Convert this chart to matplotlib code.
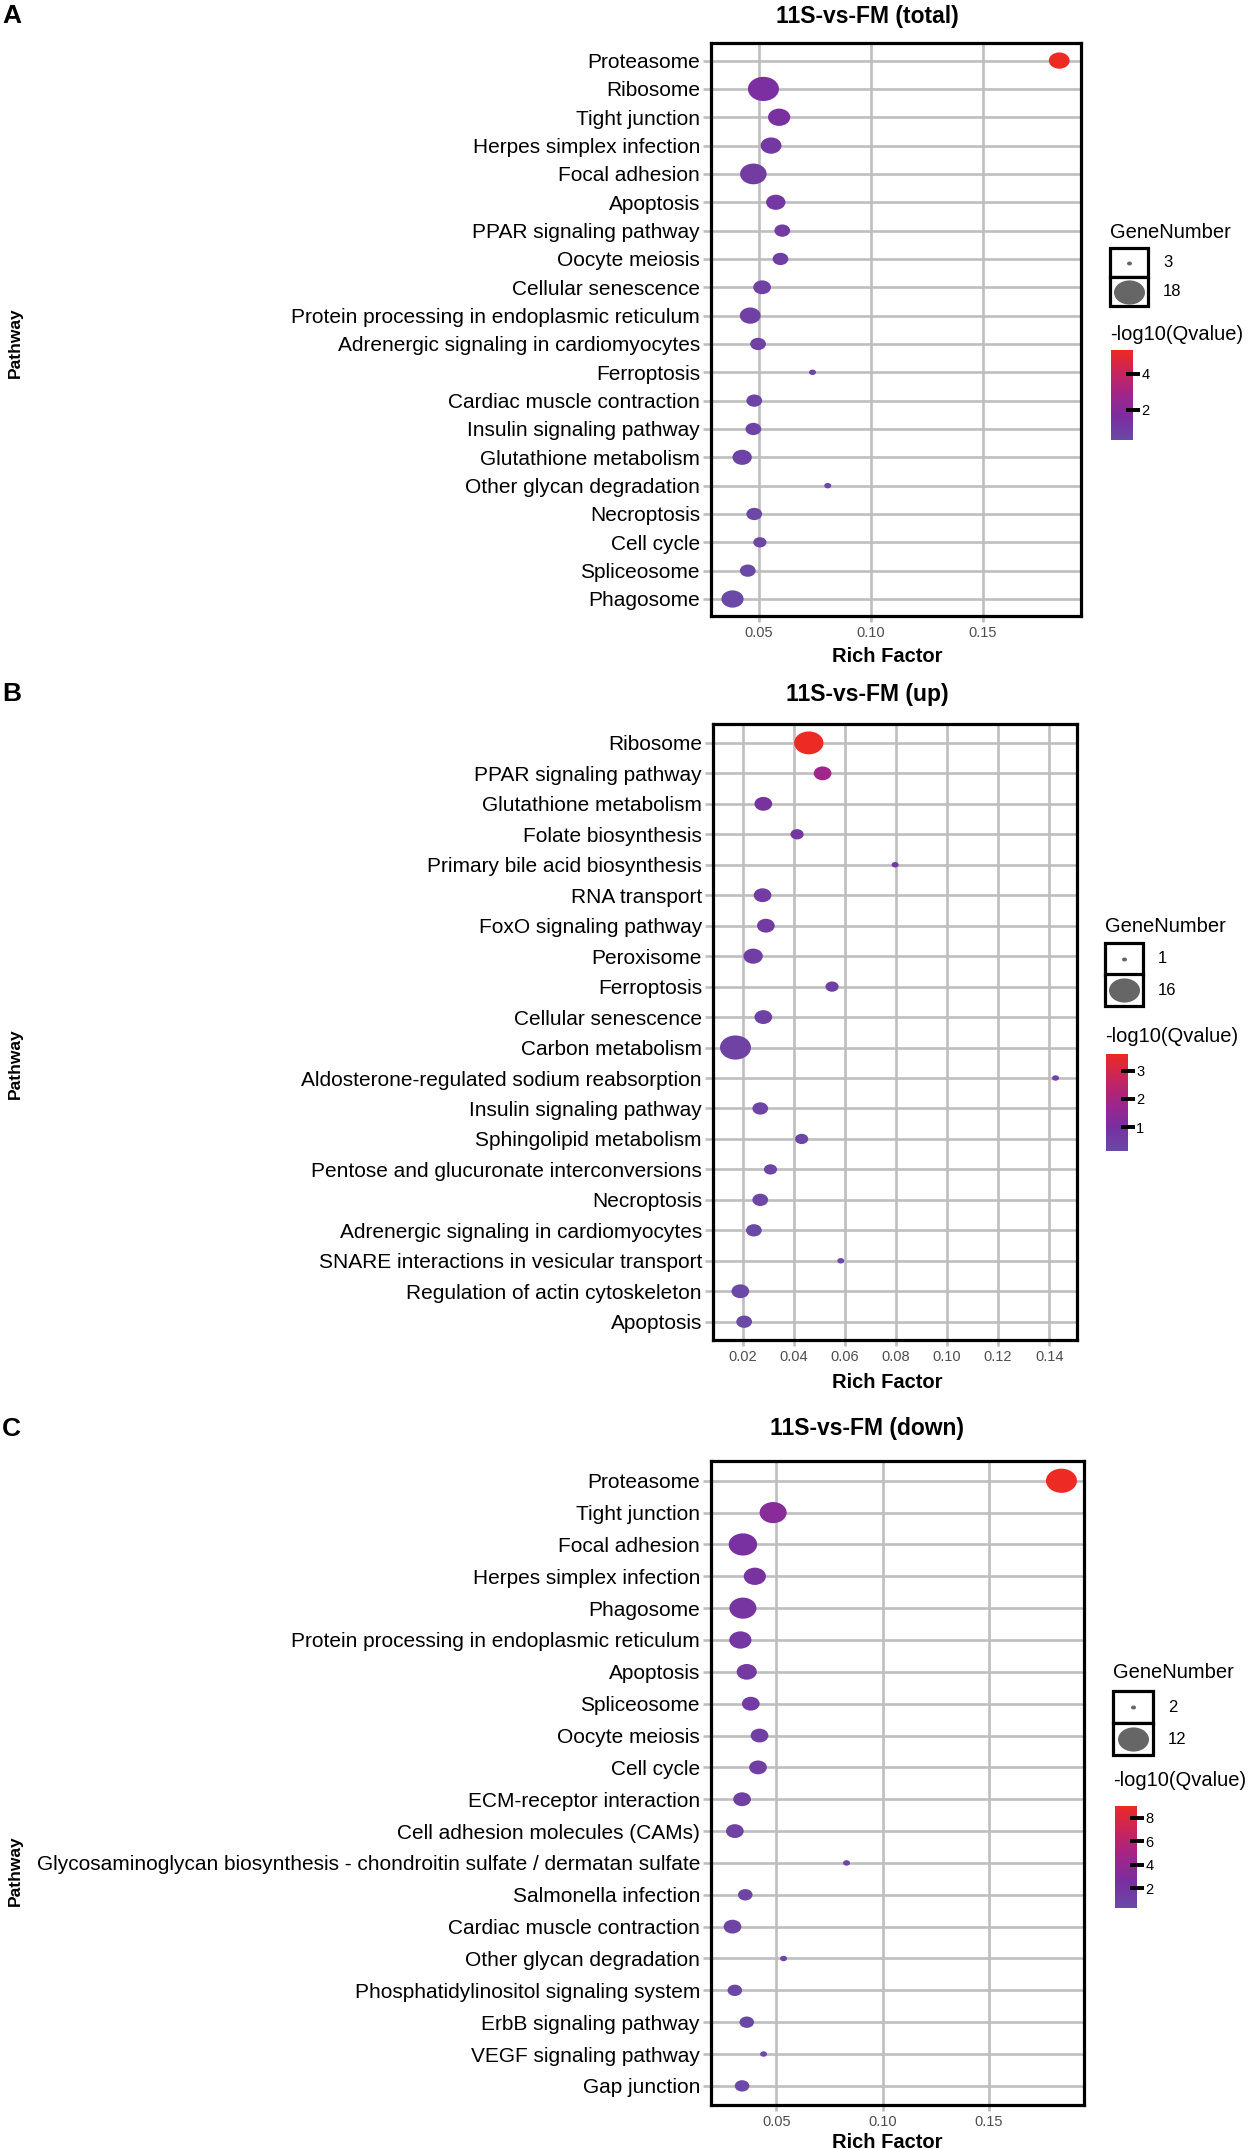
import numpy as np
import matplotlib
matplotlib.use("Agg")
import matplotlib.pyplot as plt
from matplotlib.path import Path
from matplotlib.transforms import Affine2D
from matplotlib.colors import LinearSegmentedColormap, Normalize
from matplotlib.patches import Rectangle

plt.rcParams['font.family'] = ['Liberation Sans', 'DejaVu Sans']

# panel A: total
a_terms = ['Proteasome', 'Ribosome', 'Tight junction', 'Herpes simplex infection', 'Focal adhesion',
           'Apoptosis', 'PPAR signaling pathway', 'Oocyte meiosis', 'Cellular senescence',
           'Protein processing in endoplasmic reticulum', 'Adrenergic signaling in cardiomyocytes',
           'Ferroptosis', 'Cardiac muscle contraction', 'Insulin signaling pathway',
           'Glutathione metabolism', 'Other glycan degradation', 'Necroptosis', 'Cell cycle',
           'Spliceosome', 'Phagosome']
a_rich = [0.184, 0.052, 0.059, 0.0554, 0.0475, 0.0575, 0.0604, 0.0596, 0.0514, 0.0461,
          0.0496, 0.0739, 0.0479, 0.0475, 0.0425, 0.0807, 0.0479, 0.0504, 0.045, 0.0382]
a_genes = [8, 18, 9, 8, 13, 7, 5, 5, 6, 8, 5, 3, 5, 5, 7, 3, 5, 4, 5, 9]
a_q = [5.33, 1.6, 1.5, 1.2, 1.0, 1.2, 1.0, 0.9, 0.8, 0.8, 0.7, 0.6, 0.6, 0.6, 0.6, 0.5, 0.5,
       0.5, 0.4, 0.33]

# panel B: up
b_terms = ['Ribosome', 'PPAR signaling pathway', 'Glutathione metabolism', 'Folate biosynthesis',
           'Primary bile acid biosynthesis', 'RNA transport', 'FoxO signaling pathway', 'Peroxisome',
           'Ferroptosis', 'Cellular senescence', 'Carbon metabolism',
           'Aldosterone-regulated sodium reabsorption', 'Insulin signaling pathway',
           'Sphingolipid metabolism', 'Pentose and glucuronate interconversions', 'Necroptosis',
           'Adrenergic signaling in cardiomyocytes', 'SNARE interactions in vesicular transport',
           'Regulation of actin cytoskeleton', 'Apoptosis']
b_rich = [0.0459, 0.0513, 0.0281, 0.0413, 0.0797, 0.0278, 0.0291, 0.0241, 0.055, 0.0281,
          0.0172, 0.1425, 0.0269, 0.0431, 0.0309, 0.0269, 0.0244, 0.0584, 0.0191, 0.0206]
b_genes = [14, 4, 4, 2, 1, 4, 4, 5, 2, 4, 16, 1, 3, 2, 2, 3, 3, 1, 4, 3]
b_q = [3.6, 1.8, 0.9, 0.8, 0.7, 0.6, 0.6, 0.55, 0.5, 0.45, 0.4, 0.4, 0.35, 0.3, 0.3, 0.25,
       0.2, 0.2, 0.15, 0.15]

# panel C: down
c_terms = ['Proteasome', 'Tight junction', 'Focal adhesion', 'Herpes simplex infection', 'Phagosome',
           'Protein processing in endoplasmic reticulum', 'Apoptosis', 'Spliceosome',
           'Oocyte meiosis', 'Cell cycle', 'ECM-receptor interaction',
           'Cell adhesion molecules (CAMs)',
           'Glycosaminoglycan biosynthesis - chondroitin sulfate / dermatan sulfate',
           'Salmonella infection', 'Cardiac muscle contraction', 'Other glycan degradation',
           'Phosphatidylinositol signaling system', 'ErbB signaling pathway',
           'VEGF signaling pathway', 'Gap junction']
c_rich = [0.184, 0.0485, 0.0343, 0.0399, 0.0343, 0.0331, 0.0361, 0.038, 0.0421, 0.0414,
          0.0339, 0.0305, 0.083, 0.0354, 0.0294, 0.0534, 0.0305, 0.0361, 0.044, 0.0339]
c_genes = [12, 9, 10, 6, 9, 6, 5, 4, 4, 4, 4, 4, 2, 3, 4, 2, 3, 3, 2, 3]
c_q = [9.0, 3.2, 2.4, 2.2, 2.0, 1.8, 1.6, 1.5, 1.3, 1.2, 1.1, 1.0, 0.9, 0.8, 0.7, 0.6, 0.5,
       0.45, 0.4, 0.3]

W, H = 1252, 2149
fig = plt.figure(figsize=(W / 100, H / 100), dpi=100)


def rect(l, t, r, b):
    return [l / W, 1 - b / H, (r - l) / W, (b - t) / H]


def fx(x):
    return x / W


def fy(y):
    return 1 - y / H


cmap = LinearSegmentedColormap.from_list(
    'q', ['#6A4AA6', '#7A2FA0', '#A0268A', '#C8255C', '#EE2A24'])
ellipse = Path.unit_circle().transformed(Affine2D().scale(1, 0.78))


def msize(g, gmin, gmax, dmin=7, dmax=31):
    d = dmin + (dmax - dmin) * np.sqrt((np.asarray(g, float) - gmin) / (gmax - gmin))
    return (d * 72 / 100) ** 2


def panel(terms, rich, genes, q, box, xlim, xticks, letter, title, y_title, y_rich,
          y_path, legbox, leg_x, y_gn, y_qt, cbox, cticks):
    n = len(terms)
    ax = fig.add_axes(rect(*box))
    ax.set_axisbelow(True)
    gmin, gmax = min(genes), max(genes)
    norm = Normalize(min(q), max(q))
    ax.scatter(rich, np.arange(n), s=msize(genes, gmin, gmax), c=q, cmap=cmap, norm=norm,
               marker=ellipse, linewidths=0, zorder=3, clip_on=False)
    ax.set_xlim(*xlim)
    ax.set_ylim(n - 1 + 0.6, -0.62)
    ax.set_yticks(np.arange(n))
    ax.set_yticklabels(terms)
    ax.set_xticks(xticks)
    ax.set_xticklabels(['%.2f' % t for t in xticks])
    ax.grid(True, color='#BEBEBE', lw=1.9)
    ax.tick_params(axis='y', length=6, width=1.9, color='#BEBEBE', labelsize=15, pad=2)
    ax.tick_params(axis='x', length=4, width=1.9, color='#BEBEBE', labelsize=10.5,
                   labelcolor='#4D4D4D', pad=3)
    for sp in ax.spines.values():
        sp.set_linewidth(2.3)

    fig.text(fx(2), fy(y_title), letter, fontsize=19, fontweight='bold', va='center')
    fig.text(fx(867), fy(y_title), title, fontsize=16.5, fontweight='bold',
             ha='center', va='center')
    fig.text(fx(887), fy(y_rich), 'Rich Factor', fontsize=14.5, fontweight='bold',
             ha='center', va='center')
    fig.text(fx(15), fy(y_path), 'Pathway', fontsize=12.5, fontweight='bold',
             rotation=90, ha='center', va='center')

    # size legend
    fig.text(fx(leg_x), fy(y_gn), 'GeneNumber', fontsize=14.5, va='center')
    lax = fig.add_axes(rect(*legbox))
    lax.set_xlim(0, 1)
    lax.set_ylim(0, 2)
    lax.axis('off')
    for k, (g, yc) in enumerate([(gmin, 1.5), (gmax, 0.5)]):
        lax.add_patch(Rectangle((0, yc - 0.5), 1, 1, facecolor='white', edgecolor='black',
                                lw=2.3, clip_on=False))
        lax.scatter([0.5], [yc], s=msize([g], gmin, gmax, dmin=5), color='#666666',
                    marker=ellipse, linewidths=0, zorder=3)
        yp = legbox[1] + (legbox[3] - legbox[1]) * (0.25 + 0.5 * k)
        fig.text(fx(legbox[2] + 15), fy(yp), str(g), fontsize=12, va='center')

    # colour legend
    fig.text(fx(leg_x), fy(y_qt), '-log10(Qvalue)', fontsize=14.5, va='center')
    cax = fig.add_axes(rect(*cbox))
    grad = np.linspace(norm.vmin, norm.vmax, 256)[:, None]
    cax.imshow(grad, aspect='auto', cmap=cmap, norm=norm, origin='lower',
               extent=[0, 1, norm.vmin, norm.vmax])
    cax.set_xticks([])
    cax.yaxis.tick_right()
    cax.set_yticks(cticks)
    cax.set_yticklabels([str(t) for t in cticks])
    cax.tick_params(axis='y', length=10, width=2.8, color='black', labelsize=10.5, pad=1,
                    direction='inout')
    for sp in cax.spines.values():
        sp.set_visible(False)
    return ax


panel(a_terms, a_rich, a_genes, a_q, (711, 43, 1081, 616), (0.0286, 0.1937),
      [0.05, 0.10, 0.15], 'A', '11S-vs-FM (total)', 16, 656, 343,
      (1110, 248, 1148, 306), 1110, 232, 335, (1111, 350, 1133, 440), [2, 4])

panel(b_terms, b_rich, b_genes, b_q, (713, 724, 1077, 1340), (0.0084, 0.1509),
      [0.02, 0.04, 0.06, 0.08, 0.10, 0.12, 0.14], 'B', '11S-vs-FM (up)', 694, 1382, 1064,
      (1105, 943, 1143, 1006), 1105, 926, 1037, (1106, 1054, 1128, 1151), [1, 2, 3])

panel(c_terms, c_rich, c_genes, c_q, (711, 1461, 1084, 2105), (0.0193, 0.1946),
      [0.05, 0.10, 0.15], 'C', '11S-vs-FM (down)', 1429, 2143, 1871,
      (1113, 1691, 1153, 1755), 1113, 1672, 1780, (1115, 1806, 1137, 1908), [2, 4, 6, 8])

fig.savefig('out.png', dpi=100)
